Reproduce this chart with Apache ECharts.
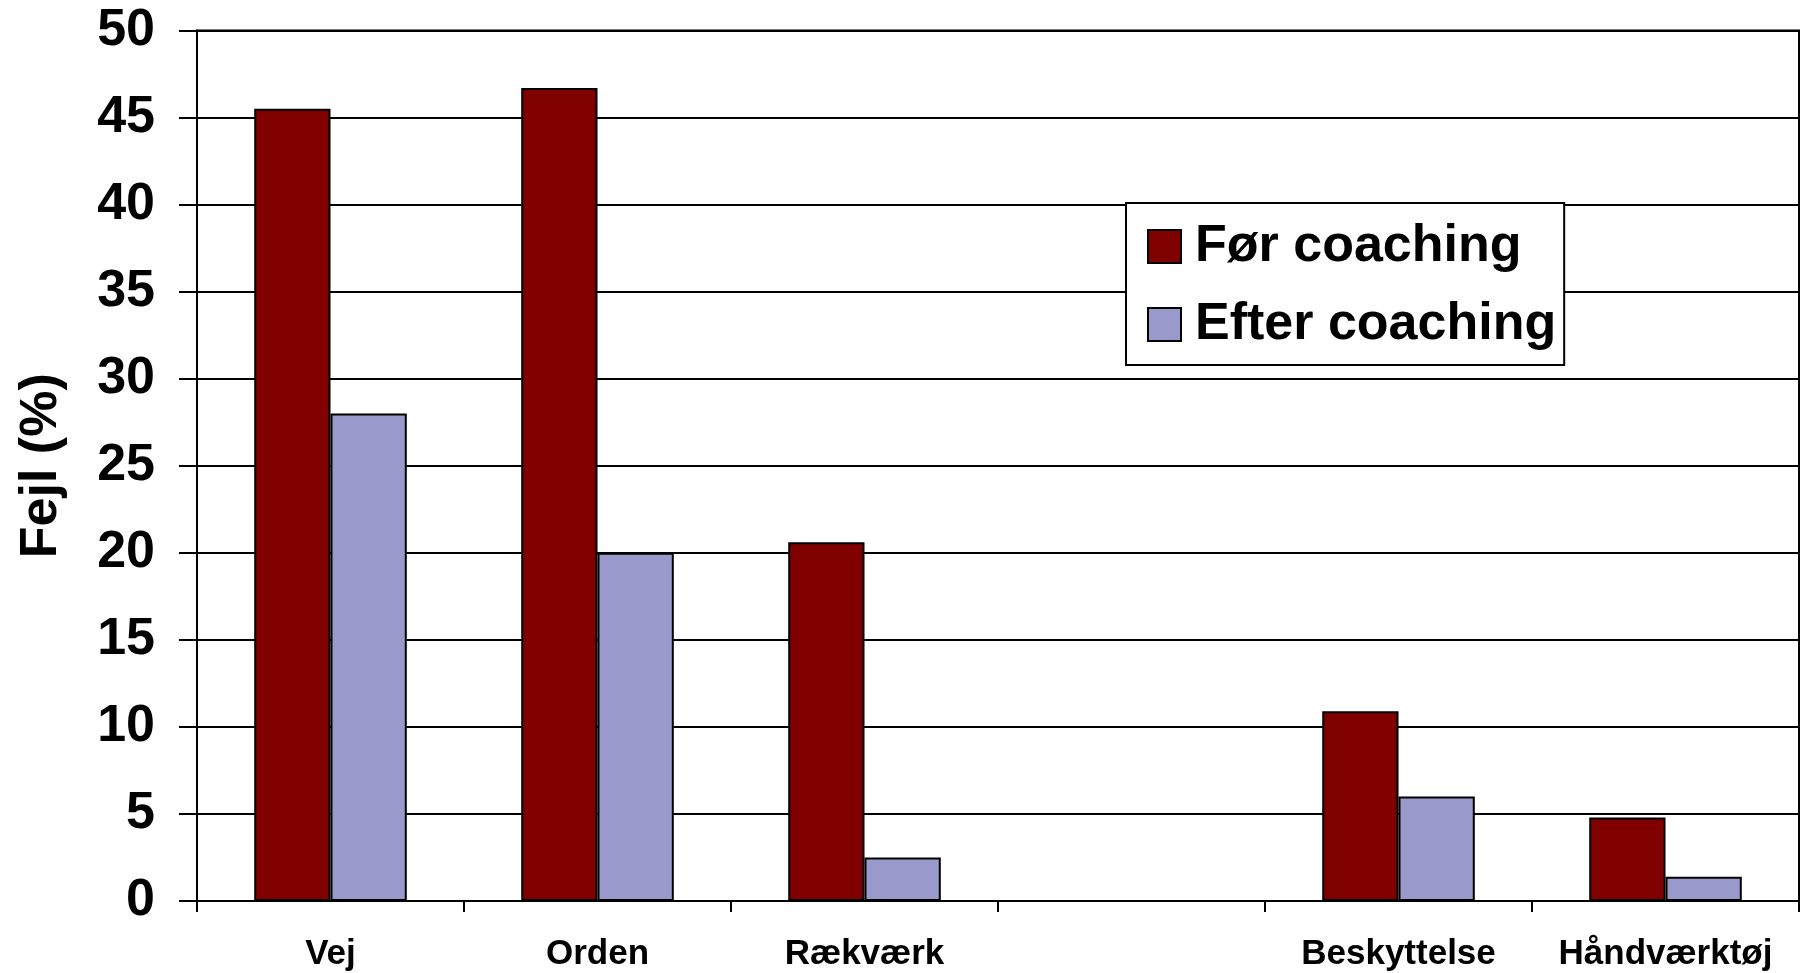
<!DOCTYPE html>
<html>
<head>
<meta charset="utf-8">
<script src="https://cdn.jsdelivr.net/npm/echarts@6/dist/echarts.min.js"></script>
<style>
html,body{margin:0;padding:0;background:#fff;}
#chart{width:1800px;height:973px;}
</style>
</head>
<body>
<div id="chart"></div>
<script>
const categories = ['Vej', 'Orden', 'Rækværk', '', 'Beskyttelse', 'Håndværktøj'];
const seriesNames = ['Før coaching', 'Efter coaching'];
const forValues = [45.5, 46.7, 20.6, null, 10.9, 4.8];
const efterValues = [28.0, 20.0, 2.5, null, 6.0, 1.4];
const yAxisName = 'Fejl (%)';

const FONT = '"Liberation Sans", Arial, sans-serif';
const chart = echarts.init(document.getElementById('chart'), null, {renderer: 'canvas'});
chart.setOption({
  animation: false,
  backgroundColor: '#fff',
  grid: {left: 197, top: 30.5, right: 1, bottom: 72, show: true, borderColor: '#000', borderWidth: 2, backgroundColor: 'transparent'},
  legend: {
    orient: 'vertical',
    left: 1126, top: 203,
    padding: [15, 8, 12, 21],
    itemGap: 21,
    itemWidth: 33, itemHeight: 33,
    borderColor: '#000', borderWidth: 2,
    backgroundColor: '#fff',
    icon: 'rect',
    textStyle: {fontFamily: FONT, fontWeight: 'bold', fontSize: 52, lineHeight: 50, color: '#000', padding: [7, 0, 0, 9]},
    data: seriesNames
  },
  xAxis: {
    type: 'category',
    data: categories,
    axisLine: {lineStyle: {color: '#000', width: 2}},
    axisTick: {show: true, length: 11, lineStyle: {color: '#000', width: 2}},
    axisLabel: {fontFamily: FONT, fontWeight: 'bold', fontSize: 35, color: '#000', margin: 36, interval: 0},
    splitLine: {show: false}
  },
  yAxis: {
    type: 'value',
    min: 0, max: 50, interval: 5,
    name: yAxisName,
    nameLocation: 'middle',
    nameRotate: 90,
    nameGap: 129,
    nameTextStyle: {fontFamily: FONT, fontWeight: 'bold', fontSize: 52, color: '#000'},
    axisLine: {show: true, lineStyle: {color: '#000', width: 2}},
    axisTick: {show: true, length: 18, lineStyle: {color: '#000', width: 2}},
    axisLabel: {fontFamily: FONT, fontWeight: 'bold', fontSize: 52, color: '#000', margin: 42},
    splitLine: {show: true, lineStyle: {color: '#000', width: 2}}
  },
  series: [
    {
      name: seriesNames[0], type: 'bar', data: forValues,
      barGap: '0%', barCategoryGap: '42.857%',
      itemStyle: {color: '#800000', borderColor: '#000', borderWidth: 2}
    },
    {
      name: seriesNames[1], type: 'bar', data: efterValues,
      barGap: '0%', barCategoryGap: '42.857%',
      itemStyle: {color: '#9999CC', borderColor: '#000', borderWidth: 2}
    }
  ]
});
</script>
</body>
</html>
